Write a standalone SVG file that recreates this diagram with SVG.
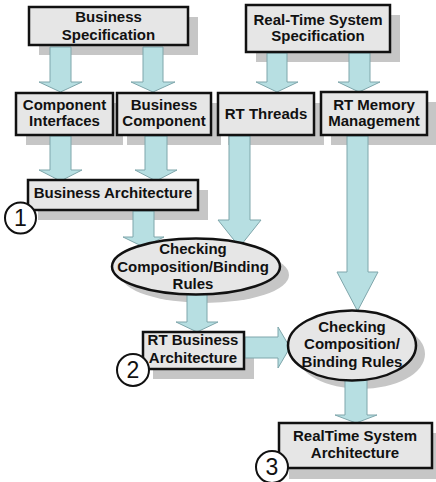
<svg xmlns="http://www.w3.org/2000/svg" width="436" height="482" viewBox="0 0 436 482">
<defs>
<style>
.sh{fill:#c6c6c6}
.box{fill:#e6e6e6;stroke:#111;stroke-width:2.5}
.arr{fill:#b7dfe2;stroke:#7fa6ab;stroke-width:1}
.t{font-family:"Liberation Sans",Arial,sans-serif;font-size:15px;font-weight:bold;fill:#111;text-anchor:middle}
.num{fill:#fff;stroke:#111;stroke-width:2}
.nt{font-family:"Liberation Sans",Arial,sans-serif;font-size:23px;fill:#111;text-anchor:middle}
</style>
</defs>
<rect width="436" height="482" fill="#fff"/>
<g id="shadows">
<rect class="sh" x="39" y="17" width="159" height="38"/>
<rect class="sh" x="256" y="15" width="144" height="47"/>
<rect class="sh" x="26" y="103" width="97" height="42"/>
<rect class="sh" x="127" y="103" width="94" height="42"/>
<rect class="sh" x="228" y="103" width="96" height="42"/>
<rect class="sh" x="331" y="102" width="105" height="43"/>
<rect class="sh" x="38" y="190" width="170" height="30"/>
<ellipse class="sh" cx="205" cy="275" rx="84" ry="28"/>
<rect class="sh" x="153" y="342" width="101" height="37"/>
<ellipse class="sh" cx="361" cy="354" rx="64" ry="35"/>
<rect class="sh" x="289" y="433" width="153" height="46"/>
</g>
<g id="connectors">
<polygon class="arr" points="50,47 71,47 71,82 82,82 60.5,92 39,82 50,82"/>
<polygon class="arr" points="143,47 163,47 163,82 175,82 153,92 131,82 143,82"/>
<polygon class="arr" points="267,53 287,53 287,82 298,82 277,92 256,82 267,82"/>
<polygon class="arr" points="349,53 370,53 370,82 380,82 359,92 338,82 349,82"/>
<polygon class="arr" points="50,136 71,136 71,170 82,170 60.5,181 39,170 50,170"/>
<polygon class="arr" points="145,136 167,136 167,170 177,170 156,181 135,170 145,170"/>
<polygon class="arr" points="229,136 250,136 250,220 261,220 239.5,247 218,220 229,220"/>
<polygon class="arr" points="347,136 368,136 368,272 378,272 357.5,311 337,272 347,272"/>
<polygon class="arr" points="133,211 154,211 154,237 164,237 143.5,247 123,237 133,237"/>
<polygon class="arr" points="187,294 207,294 207,322 218,322 197,332 176,322 187,322"/>
<polygon class="arr" points="245,337 278,337 278,327 290,347.5 278,368 278,358 245,358"/>
<polygon class="arr" points="345,380 367,380 367,415 377,415 356,423 335,415 345,415"/>
</g>
<g id="business-spec">
<rect class="box" x="29" y="7" width="159" height="38"/>
<text class="t" x="108.5" y="22">Business</text>
<text class="t" x="108.5" y="40">Specification</text>
</g>
<g id="rt-spec">
<rect class="box" x="246" y="5" width="144" height="47"/>
<text class="t" x="318" y="25">Real-Time System</text>
<text class="t" x="318" y="41">Specification</text>
</g>
<g id="component-interfaces">
<rect class="box" x="16" y="93" width="97" height="42"/>
<text class="t" x="64.5" y="110">Component</text>
<text class="t" x="64.5" y="126">Interfaces</text>
</g>
<g id="business-component">
<rect class="box" x="117" y="93" width="94" height="42"/>
<text class="t" x="164" y="110">Business</text>
<text class="t" x="164" y="126">Component</text>
</g>
<g id="rt-threads">
<rect class="box" x="218" y="93" width="96" height="42"/>
<text class="t" x="266" y="119">RT Threads</text>
</g>
<g id="rt-memory">
<rect class="box" x="321" y="92" width="106" height="43"/>
<text class="t" x="374" y="110">RT Memory</text>
<text class="t" x="374" y="126">Management</text>
</g>
<g id="business-architecture">
<rect class="box" x="28" y="180" width="170" height="30"/>
<text class="t" x="113" y="198">Business Architecture</text>
<circle class="num" cx="20.5" cy="218" r="15.5"/>
<text class="nt" x="20.5" y="226">1</text>
</g>
<g id="check1">
<ellipse class="box" cx="196" cy="266.5" rx="84" ry="28"/>
<text class="t" x="193" y="254">Checking</text>
<text class="t" x="193" y="272">Composition/Binding</text>
<text class="t" x="193" y="289">Rules</text>
</g>
<g id="rt-business-architecture">
<rect class="box" x="143" y="332" width="101" height="37"/>
<text class="t" x="193" y="345">RT Business</text>
<text class="t" x="193" y="363">Architecture</text>
<circle class="num" cx="133" cy="370" r="16"/>
<text class="nt" x="133" y="378">2</text>
</g>
<g id="check2">
<ellipse class="box" cx="352" cy="345.5" rx="64" ry="35"/>
<text class="t" x="352" y="332">Checking</text>
<text class="t" x="352" y="349">Composition/</text>
<text class="t" x="352" y="367">Binding Rules</text>
</g>
<g id="realtime-architecture">
<rect class="box" x="279" y="423" width="153" height="45"/>
<text class="t" x="355" y="441">RealTime System</text>
<text class="t" x="355" y="458">Architecture</text>
<circle class="num" cx="272" cy="467" r="16"/>
<text class="nt" x="272" y="475">3</text>
</g>
</svg>
